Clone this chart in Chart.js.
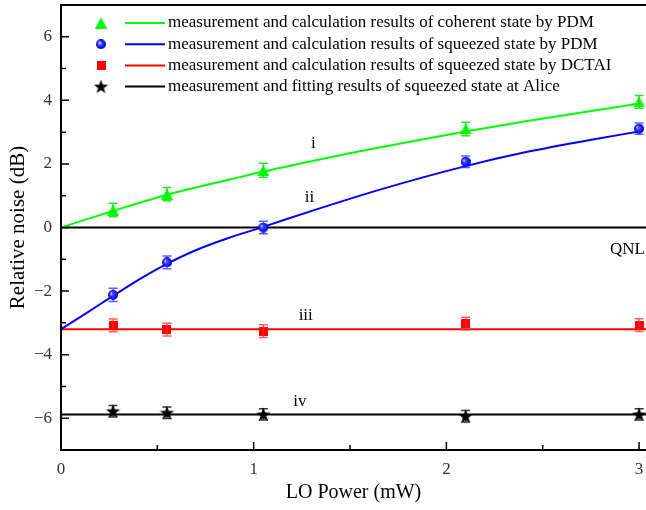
<!DOCTYPE html>
<html>
<head>
<meta charset="utf-8">
<title>Relative noise vs LO power</title>
<script src="https://cdn.jsdelivr.net/npm/chart.js@4.4.1/dist/chart.umd.min.js"></script>
<style>
  html, body { margin: 0; padding: 0; background: #fff; }
  #box { width: 646px; height: 510px; overflow: hidden; }
</style>
</head>
<body>
<div id="box"><canvas id="noiseChart" width="646" height="510"></canvas></div>
<script>
// LO power of the measured points (mW)
var loPower = [0.27, 0.55, 1.05, 2.1, 3.0];

// measured relative noise (dB)
var coherentPDM   = [0.55, 1.05, 1.80, 3.10, 3.95];
var squeezedPDM   = [-2.12, -1.10, 0.00, 2.07, 3.11];
var squeezedDCTAI = [-3.08, -3.21, -3.26, -3.02, -3.07];
var squeezedAlice = [-5.78, -5.83, -5.88, -5.94, -5.88];

// error bars (dB)
var coherentErr = [0.21, 0.21, 0.22, 0.21, 0.2];
var squeezedErr = [0.21, 0.2, 0.2, 0.18, 0.18];
var dctaiErr    = [0.2, 0.2, 0.2, 0.2, 0.2];
var aliceErr    = [0.18, 0.18, 0.18, 0.18, 0.18];

// calculated curves
var coherentCurveX = [0, 0.14, 0.27, 0.55, 0.87, 1.05, 1.31, 1.55, 1.81, 2.1, 2.42, 2.76, 3.0];
var coherentCurveY = [0, 0.27, 0.52, 1.03, 1.50, 1.76, 2.10, 2.40, 2.70, 3.02, 3.35, 3.67, 3.90];
var squeezedCurveX = [0, 0.13, 0.27, 0.415, 0.545, 0.69, 0.865, 1.05, 1.31, 1.66, 2.1, 2.42, 2.76, 3.0];
var squeezedCurveY = [-3.2, -2.7, -2.15, -1.6, -1.16, -0.74, -0.34, 0.02, 0.54, 1.2, 1.93, 2.38, 2.77, 3.02];

// flat levels: DCTAI calculation, fit at Alice, quantum noise limit
var dctaiLevel = -3.2;
var aliceLevel = -5.88;
var qnlLevel = 0;

var xTicks = [0, 1, 2, 3];
var xMinor = [0.5, 1.5, 2.5];
var yTicks = [-6, -4, -2, 0, 2, 4, 6];
var yMinor = [-5, -3, -1, 1, 3, 5];
var xMin = 0, xMax = 3.036, yMin = -7, yMax = 7;

var legendText = [
  "measurement and calculation results of coherent state by PDM",
  "measurement and calculation results of squeezed state by PDM",
  "measurement and calculation results of squeezed state by DCTAI",
  "measurement and fitting results of squeezed state at Alice"
];

var curveLabels = [
  { text: "i",   x: 1.31, y: 2.65 },
  { text: "ii",  x: 1.29, y: 0.95 },
  { text: "iii", x: 1.27, y: -2.78 },
  { text: "iv",  x: 1.24, y: -5.48 },
  { text: "QNL", x: 2.94, y: -0.7 }
];

var FONT = "'Liberation Serif', 'Times New Roman', serif";
var GREEN = "#00ff00", BLUE = "#0000ff", RED = "#ff0000", BLACK = "#000000";

function pts(xs, ys) {
  var out = [];
  for (var i = 0; i < xs.length; i++) out.push({ x: xs[i], y: ys[i] });
  return out;
}
function flat(level) {
  return [{ x: xMin, y: level }, { x: xMax, y: level }];
}

// marker glyphs
function makeTriangle() {
  var c = document.createElement("canvas");
  c.width = 12; c.height = 11;
  var g = c.getContext("2d");
  g.fillStyle = GREEN;
  g.beginPath();
  g.moveTo(6, 0); g.lineTo(12, 11); g.lineTo(0, 11);
  g.closePath(); g.fill();
  return c;
}
function makeSphere() {
  var c = document.createElement("canvas");
  c.width = 10; c.height = 10;
  var g = c.getContext("2d");
  var grd = g.createRadialGradient(3.5, 3.5, 0.5, 5, 5, 5);
  grd.addColorStop(0, "#c8c8ff");
  grd.addColorStop(0.45, "#2a2aff");
  grd.addColorStop(1, "#0000c8");
  g.fillStyle = grd;
  g.beginPath(); g.arc(5, 5, 5, 0, Math.PI * 2); g.fill();
  return c;
}
function makeSquare() {
  var c = document.createElement("canvas");
  c.width = 9; c.height = 9;
  var g = c.getContext("2d");
  g.fillStyle = RED;
  g.fillRect(0, 0, 9, 9);
  return c;
}
function makeStar() {
  var c = document.createElement("canvas");
  c.width = 15; c.height = 15;
  var g = c.getContext("2d");
  g.fillStyle = BLACK;
  g.beginPath();
  for (var i = 0; i < 10; i++) {
    var r = i % 2 === 0 ? 7.5 : 3;
    var a = -Math.PI / 2 + i * Math.PI / 5;
    var px = 7.5 + r * Math.cos(a), py = 8 + r * Math.sin(a);
    if (i === 0) g.moveTo(px, py); else g.lineTo(px, py);
  }
  g.closePath(); g.fill();
  return c;
}

var triImg = makeTriangle(), sphImg = makeSphere(), sqImg = makeSquare(), starImg = makeStar();

var markerSets = [
  { data: pts(loPower, coherentPDM),   img: triImg,  err: coherentErr, errColor: "rgba(0,230,0,0.85)" },
  { data: pts(loPower, squeezedPDM),   img: sphImg,  err: squeezedErr, errColor: "rgba(40,40,255,0.75)" },
  { data: pts(loPower, squeezedDCTAI), img: sqImg,   err: dctaiErr,    errColor: "rgba(255,40,40,0.75)" },
  { data: pts(loPower, squeezedAlice), img: starImg, err: aliceErr,    errColor: "rgba(0,0,0,0.8)" }
];

var datasets = [];
markerSets.forEach(function (m) {
  datasets.push({
    data: m.data, showLine: false, pointStyle: m.img,
    pointRadius: 6, pointHoverRadius: 6, errors: m.err, errColor: m.errColor
  });
});
var lineSets = [
  { data: pts(coherentCurveX, coherentCurveY), color: GREEN },
  { data: pts(squeezedCurveX, squeezedCurveY), color: BLUE },
  { data: flat(dctaiLevel), color: RED },
  { data: flat(aliceLevel), color: BLACK },
  { data: flat(qnlLevel), color: BLACK }
];
lineSets.forEach(function (l) {
  datasets.push({
    data: l.data, showLine: true, borderColor: l.color, borderWidth: 2,
    pointRadius: 0, cubicInterpolationMode: "monotone", fill: false
  });
});

// vertical error bars with caps
var errorBars = {
  id: "errorBars",
  afterDatasetsDraw: function (chart) {
    var ctx = chart.ctx, ys = chart.scales.y;
    chart.data.datasets.forEach(function (ds, i) {
      if (!ds.errors) return;
      var meta = chart.getDatasetMeta(i);
      ctx.save();
      ctx.strokeStyle = ds.errColor;
      ctx.lineWidth = 1.5;
      meta.data.forEach(function (el, j) {
        var v = ds.data[j].y, e = ds.errors[j];
        var top = ys.getPixelForValue(v + e), bot = ys.getPixelForValue(v - e);
        ctx.beginPath();
        ctx.moveTo(el.x, top); ctx.lineTo(el.x, bot);
        ctx.moveTo(el.x - 4.5, top); ctx.lineTo(el.x + 4.5, top);
        ctx.moveTo(el.x - 4.5, bot); ctx.lineTo(el.x + 4.5, bot);
        ctx.stroke();
      });
      ctx.restore();
    });
  }
};

// frame (right side runs off the canvas), inward ticks, legend and curve labels
var decorations = {
  id: "decorations",
  afterDraw: function (chart) {
    var ctx = chart.ctx, a = chart.chartArea;
    var xs = chart.scales.x, ys = chart.scales.y;
    ctx.save();
    ctx.strokeStyle = "#000";
    ctx.lineWidth = 2;
    ctx.beginPath();
    ctx.moveTo(a.right + 2, a.top);
    ctx.lineTo(a.left, a.top);
    ctx.lineTo(a.left, a.bottom);
    ctx.lineTo(a.right + 2, a.bottom);
    ctx.stroke();

    ctx.lineWidth = 1.5;
    ctx.beginPath();
    xTicks.forEach(function (v) {
      var x = xs.getPixelForValue(v);
      ctx.moveTo(x, a.bottom); ctx.lineTo(x, a.bottom - 8);
    });
    xMinor.forEach(function (v) {
      var x = xs.getPixelForValue(v);
      ctx.moveTo(x, a.bottom); ctx.lineTo(x, a.bottom - 5);
    });
    yTicks.forEach(function (v) {
      var y = ys.getPixelForValue(v);
      ctx.moveTo(a.left, y); ctx.lineTo(a.left + 8, y);
    });
    yMinor.forEach(function (v) {
      var y = ys.getPixelForValue(v);
      ctx.moveTo(a.left, y); ctx.lineTo(a.left + 5, y);
    });
    ctx.stroke();

    // legend
    ctx.font = "17px " + FONT;
    ctx.textBaseline = "middle";
    ctx.textAlign = "left";
    ctx.fillStyle = "#000";
    for (var i = 0; i < legendText.length; i++) {
      var ry = a.top + 18 + i * 21.2;
      var img = markerSets[i].img;
      ctx.drawImage(img, 101 - img.width / 2, ry - img.height / 2);
      ctx.strokeStyle = lineSets[i].color;
      ctx.lineWidth = 2;
      ctx.beginPath();
      ctx.moveTo(125, ry); ctx.lineTo(165, ry);
      ctx.stroke();
      ctx.fillText(legendText[i], 168, ry);
    }

    // curve labels
    ctx.textAlign = "center";
    curveLabels.forEach(function (l) {
      ctx.fillText(l.text, xs.getPixelForValue(l.x), ys.getPixelForValue(l.y));
    });
    ctx.restore();
  }
};

function fmt(v) {
  return v < 0 ? "\u2212" + Math.abs(v) : String(v);
}

var ctx = document.getElementById("noiseChart").getContext("2d");
var noiseChart = new Chart(ctx, {
  type: "scatter",
  data: { datasets: datasets },
  options: {
    responsive: false,
    animation: false,
    devicePixelRatio: 1,
    layout: { autoPadding: false, padding: { top: 5, right: 0, left: 0, bottom: 0 } },
    plugins: { legend: { display: false }, tooltip: { enabled: false } },
    scales: {
      x: {
        type: "linear", min: xMin, max: xMax,
        grid: { display: false, drawTicks: false },
        border: { display: false },
        afterBuildTicks: function (s) { s.ticks = xTicks.map(function (v) { return { value: v }; }); },
        afterFit: function (s) {
          s.height = 60;
          s.paddingLeft = 0; s.paddingRight = 0;
        },
        ticks: { padding: 9, autoSkip: false, maxRotation: 0, color: "#333",
                 font: { family: FONT, size: 17 }, callback: fmt },
        title: { display: true, text: "LO Power (mW)", color: "#000",
                 font: { family: FONT, size: 20 }, padding: { top: 0, bottom: 5 } }
      },
      y: {
        type: "linear", min: yMin, max: yMax,
        grid: { display: false, drawTicks: false },
        border: { display: false },
        afterBuildTicks: function (s) { s.ticks = yTicks.map(function (v) { return { value: v }; }); },
        afterFit: function (s) {
          s.width = 61;
          s.paddingTop = 0; s.paddingBottom = 0;
        },
        ticks: { padding: 9, autoSkip: false, color: "#333",
                 font: { family: FONT, size: 17 }, callback: fmt },
        title: { display: true, text: "Relative noise (dB)", color: "#000",
                 font: { family: FONT, size: 21 }, padding: { top: 6, bottom: 0 } }
      }
    }
  },
  plugins: [errorBars, decorations]
});
</script>
</body>
</html>
